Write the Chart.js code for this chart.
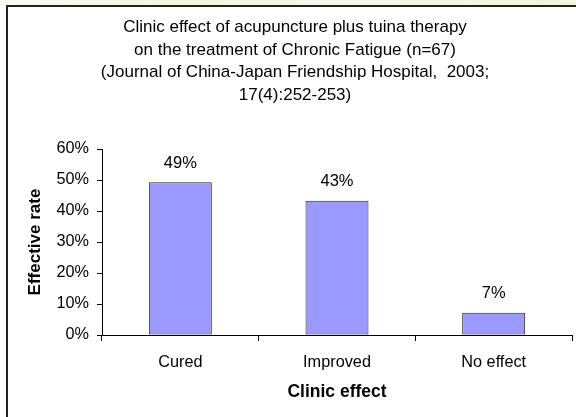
<!DOCTYPE html>
<html><head><meta charset="utf-8">
<script src="https://cdn.jsdelivr.net/npm/chart.js@4.4.0/dist/chart.umd.min.js"></script>
<style>html,body{margin:0;padding:0;background:#fff;overflow:hidden;} #wrap{width:576px;height:417px;position:relative;}</style>
</head><body><div id="wrap"><canvas id="c" width="576" height="417"></canvas></div>
<script>
const categories = ['Cured', 'Improved', 'No effect'];
const effectiveRate = [49.3, 43.3, 7.2];
const yTicks = [0, 10, 20, 30, 40, 50, 60];
const titleLines = [
  'Clinic effect of acupuncture plus tuina therapy',
  'on the treatment of Chronic Fatigue (n=67)',
  '(Journal of China-Japan Friendship Hospital,  2003;',
  '17(4):252-253)'
];
const xAxisTitle = 'Clinic effect';
const yAxisTitle = 'Effective rate';

const FONT = "'Liberation Sans', Arial, sans-serif";
Chart.defaults.font.family = FONT;
Chart.defaults.color = '#000';

const frame = {
  id: 'frame',
  beforeDraw(chart) {
    const ctx = chart.ctx;
    ctx.save();
    ctx.fillStyle = '#fff';
    ctx.fillRect(0, 0, chart.width, chart.height);
    const g = ctx.createLinearGradient(0, 0, chart.width, 0);
    g.addColorStop(0, '#fbfbf0');
    g.addColorStop(0.3, '#f3f6de');
    g.addColorStop(0.6, '#f7f8e6');
    g.addColorStop(1, '#f2f5dc');
    ctx.fillStyle = g;
    ctx.fillRect(0, 0, chart.width, 6);
    ctx.strokeStyle = '#222';
    ctx.lineWidth = 2;
    ctx.beginPath();
    ctx.moveTo(7, chart.height);
    ctx.lineTo(7, 6);
    ctx.lineTo(chart.width, 6);
    ctx.stroke();
    ctx.restore();
  }
};

const valueLabels = {
  id: 'valueLabels',
  afterDatasetsDraw(chart) {
    const ctx = chart.ctx;
    const meta = chart.getDatasetMeta(0);
    ctx.save();
    ctx.font = '16.5px ' + FONT;
    ctx.fillStyle = '#000';
    ctx.textAlign = 'center';
    ctx.textBaseline = 'middle';
    meta.data.forEach((bar, i) => {
      const v = chart.data.datasets[0].data[i];
      ctx.fillText(Math.round(v) + '%', bar.x, bar.y - 19);
    });
    ctx.restore();
  }
};

new Chart(document.getElementById('c'), {
  type: 'bar',
  data: {
    labels: categories,
    datasets: [{
      data: effectiveRate,
      backgroundColor: '#9999ff',
      borderColor: '#2a2a2a',
      borderWidth: 1,
      borderSkipped: false,
      barPercentage: 0.402,
      categoryPercentage: 1
    }]
  },
  options: {
    responsive: false,
    devicePixelRatio: 1,
    animation: false,
    layout: { padding: { top: 6, left: 18, right: 4, bottom: 11.8 } },
    plugins: {
      legend: { display: false },
      tooltip: { enabled: false },
      title: {
        display: true,
        text: titleLines,
        color: '#000',
        font: { size: 17, weight: 'normal', lineHeight: '22.6px' },
        padding: { top: 10.2, bottom: 42.4 }
      }
    },
    scales: {
      x: {
        afterFit: s => { s.height = 70.2; },
        grid: { offset: true, drawOnChartArea: false, drawTicks: true, tickLength: 6, color: '#000' },
        border: { color: '#000', width: 1 },
        ticks: { padding: 11.5, color: '#000', font: { size: 16.3 } },
        title: { display: true, text: xAxisTitle, color: '#000', font: { size: 17.5, weight: 'bold' }, padding: { top: 10.6, bottom: 2.8 } }
      },
      y: {
        min: 0,
        max: 60,
        afterBuildTicks: s => { s.ticks = yTicks.map(v => ({ value: v })); },
        afterFit: s => { s.width = 84; },
        grid: { drawOnChartArea: false, drawTicks: true, tickLength: 5, color: '#000' },
        border: { color: '#000', width: 1 },
        ticks: { padding: 8, color: '#000', font: { size: 16.3 }, callback: v => v + '%' },
        title: { display: true, text: yAxisTitle, color: '#000', font: { size: 17, weight: 'bold' }, padding: { top: 6.8, bottom: 0 } }
      }
    }
  },
  plugins: [frame, valueLabels]
});
</script>
</body></html>
